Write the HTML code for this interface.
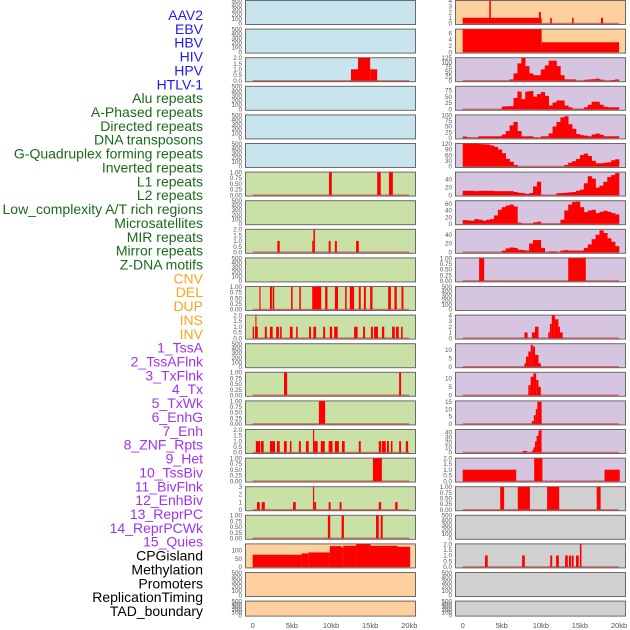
<!DOCTYPE html>
<html><head><meta charset="utf-8">
<style>
html,body{margin:0;padding:0;background:#fff;}
svg{display:block;font-family:"Liberation Sans",sans-serif;}
</style></head>
<body>
<svg id="chart" width="630" height="630" viewBox="0 0 630 630" xmlns="http://www.w3.org/2000/svg">
<g id="labels"></g>
<g id="panels"></g>
<g id="xaxis"></g>
</svg>
<script>
const trackLabels = ["AAV2","EBV","HBV","HIV","HPV","HTLV-1","Alu repeats","A-Phased repeats","Directed repeats","DNA transposons","G-Quadruplex forming repeats","Inverted repeats","L1 repeats","L2 repeats","Low_complexity A/T rich regions","Microsatellites","MIR repeats","Mirror repeats","Z-DNA motifs","CNV","DEL","DUP","INS","INV","1_TssA","2_TssAFlnk","3_TxFlnk","4_Tx","5_TxWk","6_EnhG","7_Enh","8_ZNF_Rpts","9_Het","10_TssBiv","11_BivFlnk","12_EnhBiv","13_ReprPC","14_ReprPCWk","15_Quies","CPGisland","Methylation","Promoters","ReplicationTiming","TAD_boundary"];
const labelGroups = [6,13,5,15,5];
const xTickLabels = ["0","5kb","10kb","15kb","20kb"];
const xTickValues = [0,5,10,15,20];

// left column segments [startKb, endKb, value]
const L_HIV = [[12.55,13.45,1],[13.45,15.0,2],[15.0,15.9,1]];
const L_L1 = [[9.75,10.1,1],[15.9,16.35,1],[17.4,17.9,1]];
const L_LowComplex = [[3.15,3.45,1],[7.6,7.75,1],[7.75,7.95,2],[9.7,9.95,1],[10.5,10.75,1],[13.2,13.55,1]];
const L_MIR = [[0.85,1.0,1],[2.2,2.45,1],[2.55,2.75,1],[4.9,5.1,1],[5.95,6.15,1],[7.6,8.75,1],[9.25,9.55,1],[10.5,10.9,1],[11.8,12.0,1],[12.4,12.95,1],[13.55,13.8,1],[14.2,14.45,1],[15.0,15.3,1],[17.3,17.65,1],[18.1,18.4,1],[19.0,19.25,1]];
const L_Mirror = [[0,0.17,1],[0.3,0.65,1],[0.35,0.47,2],[1.55,1.8,1],[2.2,2.55,1],[3.0,3.35,1],[3.5,3.7,1],[4.75,5.1,1],[5.55,5.75,1],[7.2,7.45,1],[7.75,8.1,1],[9.0,9.25,1],[9.85,10.15,1],[10.4,10.85,1],[12.95,13.4,1],[14.1,14.35,1],[15.1,15.35,1],[15.5,16.0,1],[16.5,16.8,1],[17.8,18.15,1],[18.3,18.65,1],[18.95,19.15,1]];
const L_CNV = [[4.0,4.4,1],[18.7,18.95,1]];
const L_DEL = [[8.45,9.25,1]];
const L_DUP = [[0.4,0.95,1],[1.05,1.4,1],[2.2,2.85,1],[3.1,3.45,1],[4.0,4.35,1],[4.75,4.95,1],[5.9,6.15,1],[6.8,7.15,1],[7.7,7.85,2],[7.85,8.3,1],[8.7,9.2,1],[9.7,10.2,1],[10.5,11.0,1],[11.4,11.75,1],[13.55,13.8,1],[16.1,16.4,1],[16.5,17.0,1],[17.15,17.4,1],[17.65,17.85,1],[18.7,18.95,1],[19.55,19.85,1]];
const L_INS = [[15.35,16.5,1]];
const L_INV = [[0.55,0.9,1],[1.15,1.55,1],[5.15,5.5,1],[7.7,7.85,3],[7.85,8.1,1],[9.7,9.95,1],[11.1,11.35,1],[16.1,16.4,1],[18.2,18.5,1]];
const L_Row18 = [[9.6,9.9,1],[11.35,11.65,1],[15.75,16.1,1],[16.35,16.6,1]];
const L_Methyl = [[0,6.25,73],[6.25,7.1,81],[7.1,9.85,87],[9.85,11.35,125],[11.35,11.55,117],[11.55,13.2,127],[13.2,15.05,137],[15.05,18.5,127],[18.5,20.1,121]];

// right column segments
const R_AAV2 = [[0,10.1,1],[3.4,3.6,4],[9.75,10.0,2],[11.2,11.4,1],[14.0,14.2,1],[17.7,17.95,1]];
const R_EBV = [[0,10.1,7.2],[10.1,20,3.1]];
const R_Row9 = [[2.1,2.75,1],[13.5,15.75,1]];
const R_Row11 = [[7.9,8.3,1],[8.85,9.25,1],[9.25,9.7,2],[10.95,11.15,1],[11.15,11.4,2.5],[11.4,11.8,4],[11.8,12.25,3.3],[12.25,12.45,2],[12.45,12.8,1]];
const R_Row12 = [[7.9,8.1,2],[8.1,8.4,6],[8.4,8.7,9],[8.7,8.95,13],[8.95,9.25,12],[9.25,9.7,7],[9.7,10.0,2]];
const R_Row13 = [[8.4,8.7,6],[8.7,9.05,11],[9.05,9.4,13],[9.4,9.7,9],[9.7,10.0,5]];
const R_Row14 = [[8.85,9.1,2],[9.1,9.35,6],[9.35,9.55,10],[9.55,10.1,15]];
const R_Row15 = [[7.7,8.25,3],[8.85,9.05,4],[9.05,9.25,10],[9.25,9.45,22],[9.45,9.7,33],[9.7,9.9,43],[9.9,10.1,45]];
const R_Row16 = [[0,6.85,1],[9.15,10.2,2],[18.15,20.1,1]];
const R_Row17 = [[4.8,5.3,1],[7.05,8.6,1],[10.8,12.35,1],[17.15,17.65,1]];
const R_Row19 = [[2.85,3.2,1],[7.6,7.95,1],[11.2,11.45,1],[11.95,12.3,1],[13.1,13.45,1],[13.6,13.85,1],[13.95,14.2,1],[14.5,14.85,1],[15.0,15.2,2]];

// right column profiles, 0.5kb bins over 0-20kb
const R_HIV_bins = [0,0,0,0,0,0,0,0,0,0,0,0,7,40,95,125,80,40,30,30,62,84,110,110,80,30,7,7,7,0,0,5,7,8,11,6,0,0,4,7];
const R_Alu_bins = [0,0,0,0,0,0,0,0,0,0,11,12,12,45,70,40,70,72,50,60,68,53,15,27,35,35,15,8,2,2,2,8,18,30,30,18,10,8,8,8];
const R_Dir_bins = [6,2,1,1,7,7,7,7,7,7,15,30,55,70,30,7,7,7,2,1,7,7,20,50,70,90,95,60,40,17,12,10,7,15,19,14,7,7,7,7];
const R_GQ_bins = [120,120,120,120,118,117,116,111,103,90,70,40,25,8,0,0,0,0,0,0,0,0,0,0,0,0,8,20,28,40,60,68,55,30,17,17,20,22,33,38];
const R_L1_bins = [11,11,11,10,11,11,11,11,10,10,10,10,10,8,6,5,3,5,22,34,0,0,0,0,5,5,6,7,8,11,14,30,48,42,19,24,34,46,51,56];
const R_L2_bins = [11,10,9,14,12,9,12,14,25,42,50,55,58,52,3,0,0,0,4,6,0,0,0,0,0,12,40,58,66,67,50,35,40,42,32,36,39,36,32,28];
const R_LC_bins = [0,0,0,0,0,0,0,0,0,0,4,9,11,10,6,5,4,20,28,28,10,0,2,2,0,4,5,4,4,4,4,10,18,30,40,50,44,32,24,14];

const emptyTicks = [0,100,200,300,400,500];
const ticks1 = [0,0.25,0.5,0.75,1];
const ticks2 = [0,0.5,1,1.5,2];

const leftBg = ["#c8e4ec","#c8e4ec","#c8e4ec","#c8e4ec","#c8e4ec","#c8e4ec","#c9e1a6","#c9e1a6","#c9e1a6","#c9e1a6","#c9e1a6","#c9e1a6","#c9e1a6","#c9e1a6","#c9e1a6","#c9e1a6","#c9e1a6","#c9e1a6","#c9e1a6","#fed09e","#fed09e","#fed09e"];
const rightBg = ["#fed09e","#fed09e","#d5c5e1","#d5c5e1","#d5c5e1","#d5c5e1","#d5c5e1","#d5c5e1","#d5c5e1","#d5c5e1","#d5c5e1","#d5c5e1","#d5c5e1","#d5c5e1","#d5c5e1","#d5c5e1","#d5c5e1","#d0d0d0","#d0d0d0","#d0d0d0","#d0d0d0","#d0d0d0"];
const leftSpec = [
 [500,emptyTicks,0,null],[500,emptyTicks,0,null],[2,ticks2,1,L_HIV],[500,emptyTicks,0,null],[500,emptyTicks,0,null],[500,emptyTicks,0,null],
 [1,ticks1,2,L_L1],[500,emptyTicks,0,null],[2,ticks2,1,L_LowComplex],[500,emptyTicks,0,null],[1,ticks1,2,L_MIR],[2,ticks2,1,L_Mirror],
 [500,emptyTicks,0,null],[1,ticks1,2,L_CNV],[1,ticks1,2,L_DEL],[2,ticks2,1,L_DUP],[1,ticks1,2,L_INS],[3,[0,1,2,3],0,L_INV],
 [1,ticks1,2,L_Row18],[137,[0,50,100],0,L_Methyl],[500,emptyTicks,0,null],[500,emptyTicks,0,null]];
const rightSpec = [
 [4,[0,1,2,3,4],0,R_AAV2,null],[7.2,[0,2,4,6],0,R_EBV,null],[125,[0,25,50,75,100,125],0,null,R_HIV_bins],[90,[0,25,50,75],0,null,R_Alu_bins],
 [100,[0,25,50,75,100],0,null,R_Dir_bins],[120,[0,30,60,90,120],0,null,R_GQ_bins],[58,[0,20,40],0,null,R_L1_bins],[69,[0,20,40,60],0,null,R_L2_bins],
 [52,[0,20,40],0,null,R_LC_bins],[1,ticks1,2,R_Row9,null],[500,emptyTicks,0,null,null],[4,[0,1,2,3,4],0,R_Row11,null],
 [13.5,[0,5,10],0,R_Row12,null],[13.5,[0,5,10],0,R_Row13,null],[15.5,[0,5,10,15],0,R_Row14,null],[45,[0,10,20,30,40],0,R_Row15,null],
 [2,ticks2,1,R_Row16,null],[1,ticks1,2,R_Row17,null],[500,emptyTicks,0,null,null],[2,ticks2,1,R_Row19,null],[500,emptyTicks,0,null,null],[500,emptyTicks,0,null,null]];

const NS = "http://www.w3.org/2000/svg";
function mk(tag, attrs, parent){const e=document.createElementNS(NS,tag);for(const k in attrs)e.setAttribute(k,attrs[k]);parent.appendChild(e);return e;}

const colors = ["#1c1cf0","#1a6b1a","#ffa41c","#a232f0","#000000"];
const lg = document.getElementById("labels");
let idx=0;
const step = (611-15)/(trackLabels.length-1);
labelGroups.forEach((n,g)=>{for(let i=0;i<n;i++){
  const t=mk("text",{x:203,y:15+idx*step+5,"text-anchor":"end","font-size":"14",fill:colors[g]},lg);
  t.textContent=trackLabels[idx];
  
  
  idx++;}});

const panels=document.getElementById("panels");
const cols=[{x0:245,x1:416,kx0:252.7,kx1:409.3,bg:leftBg,spec:leftSpec,side:"left"},{x0:455,x1:626,kx0:462.7,kx1:619,bg:rightBg,spec:rightSpec,side:"right"}];
function rowTop(r){return r*28.6;}
function rowH(r){return r===21?16:25;}
cols.forEach(c=>{
  const xs=kb=>c.kx0+(c.kx1-c.kx0)*kb/20;
  for(let r=0;r<22;r++){
    const sp=c.spec[r];const top=rowTop(r),h=rowH(r);
    const g=mk("g",{},panels);
    
    
    const bgr=mk("rect",{x:c.x0+0.5,y:top+0.5,width:c.x1-c.x0-1,height:h-1,fill:c.bg[r],stroke:"#6a6a6a","stroke-width":1},g);
    
    
    const ymax=sp[0];const y0=top+h-1.5,y1=top+0.7;
    const ys=v=>y0-(y0-y1)*v/ymax;
    sp[1].forEach(tv=>{
      const t=mk("text",{x:c.x0-3,y:ys(tv)+2.2,"text-anchor":"end","font-size":"6.3",fill:"#555"},g);
      t.textContent=tv.toFixed(sp[2]);
      
      
    });
    const hasData=sp[3]||sp[4];
    if(hasData){
      const bl=mk("line",{x1:xs(0),x2:xs(20),y1:y0,y2:y0,stroke:"#c03030","stroke-opacity":0.6,"stroke-width":1.5},g);
      
      
    }
    if(sp[4]){
      sp[4].forEach((v,i)=>{ if(v<=0)return;
        const b=mk("rect",{x:xs(i*0.5),y:ys(v),width:xs(i*0.5+0.5)-xs(i*0.5)+0.3,height:y0-ys(v),fill:"#ff0000"},g);
        
        
      });
    }
    if(sp[3]){
      sp[3].forEach(s=>{
        const b=mk("rect",{x:xs(s[0]),y:ys(s[2]),width:Math.max(1,xs(s[1])-xs(s[0])),height:y0-ys(s[2]),fill:"#ff0000"},g);
        
        
      });
    }
  }
  const xa=document.getElementById("xaxis");
  xTickValues.forEach((v,i)=>{
    const t=mk("text",{x:xs(v),y:628,"text-anchor":"middle","font-size":"7.5",fill:"#555"},xa);
    t.textContent=xTickLabels[i];
    
    
  });
});
</script>
</body></html>
